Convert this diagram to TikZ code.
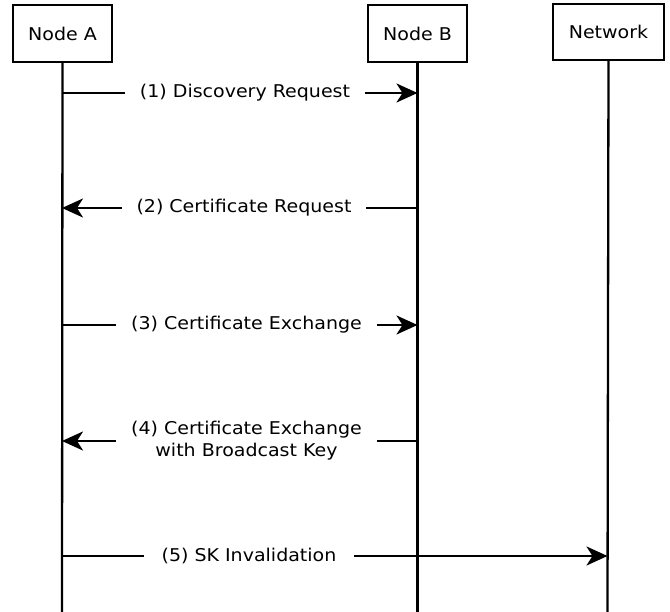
\documentclass[tikz,border=0pt]{standalone}
\usepackage{fontspec}
\setmainfont{DejaVu Sans}[FakeStretch=1.08]
\usetikzlibrary{arrows.meta}
\begin{document}
\begin{tikzpicture}[x=1pt,y=-1pt,
  font=\fontsize{17.6pt}{22pt}\selectfont,
  actor/.style={draw,line width=2.3pt,minimum height=57pt,inner sep=0pt},
  life/.style={line width=2.3pt},
  msg/.style={line width=2.3pt,-{Stealth[length=21pt,width=19pt,inset=6pt]}},
  lbl/.style={fill=white,inner xsep=15pt,inner ysep=2pt,align=center}]
\useasboundingbox (0,0) rectangle (670,612);
\node[actor,minimum width=99pt] (A) at (62.5,33.5) {Node A};
\node[actor,minimum width=99pt] (B) at (417.5,33.5) {Node B};
\node[actor,minimum width=111pt,minimum height=56pt] (N) at (608.5,32) {Network};
\coordinate (Aend) at (62,612);
\coordinate (Bend) at (417.5,612);
\coordinate (Nend) at (607.5,612);
\draw[life] (A.south) -- (Aend);
\draw[life] (B.south) -- (Bend);
\draw[life] (N.south) -- (Nend);
% message anchors
\coordinate (a1) at (62,93);   \coordinate (b1) at (417.5,93);
\coordinate (a2) at (62,208);  \coordinate (b2) at (417.5,208);
\coordinate (a3) at (62,325);  \coordinate (b3) at (417.5,325);
\coordinate (a4) at (62,441);  \coordinate (b4) at (417.5,441);
\coordinate (a5) at (62,556);  \coordinate (n5) at (607.5,556);
\draw[msg] (a1) -- (b1);
\node[lbl] (m1) at (245,93) {(1) Discovery Request};
\draw[msg] (b2) -- (a2);
\node[lbl] (m2) at (244,208) {(2) Certificate Request};
\draw[msg] (a3) -- (b3);
\node[lbl] (m3) at (246.5,325) {(3) Certificate Exchange};
\draw[msg] (b4) -- (a4);
\node[lbl] (m4) at (246.5,441) {(4) Certificate Exchange\\with Broadcast Key};
\draw[msg] (a5) -- (n5);
\node[lbl,inner xsep=18pt] (m5) at (249,556) {(5) SK Invalidation};
\end{tikzpicture}
\end{document}
